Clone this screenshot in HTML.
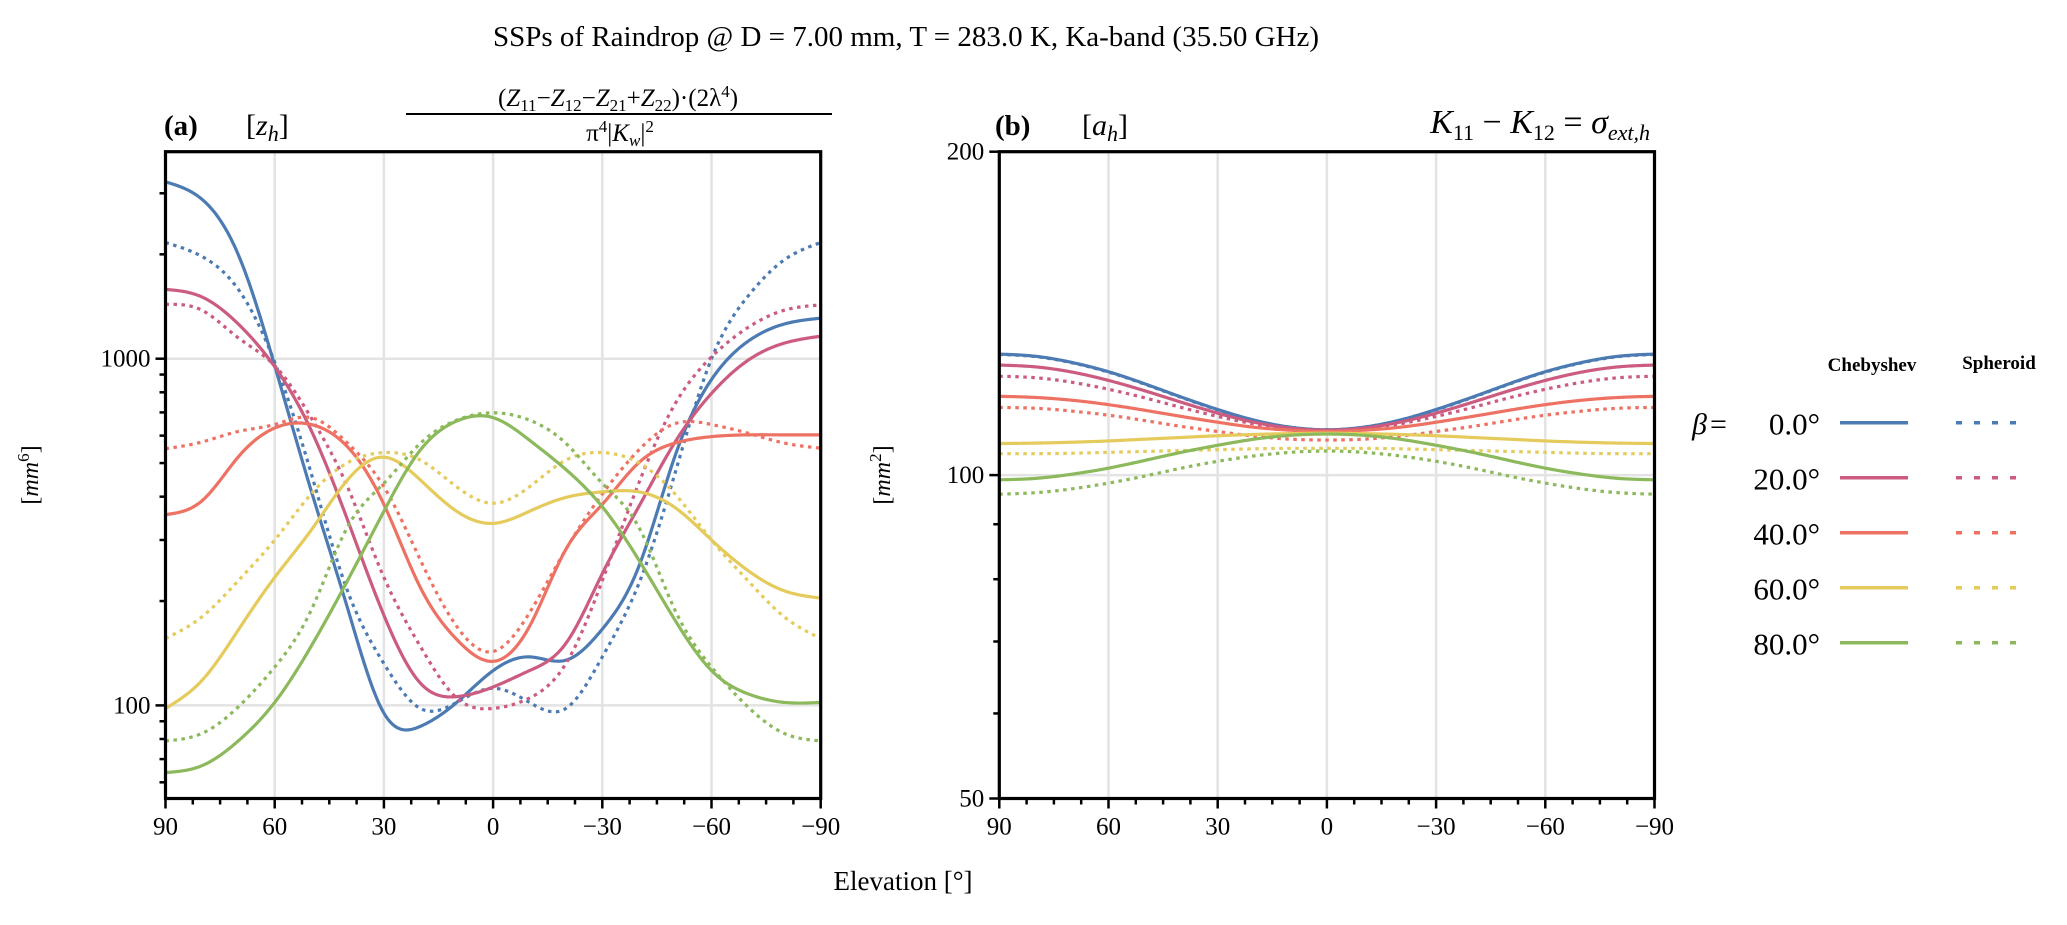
<!DOCTYPE html>
<html><head><meta charset="utf-8"><style>
html,body{margin:0;padding:0;background:#fff;}
svg{display:block;font-family:"Liberation Serif",serif;}
</style></head><body>
<svg id="fig" width="2067" height="925" viewBox="0 0 2067 925" xmlns="http://www.w3.org/2000/svg">
<text x="906" y="46" font-size="29" text-anchor="middle">SSPs of Raindrop @ D = 7.00 mm, T = 283.0 K, Ka-band (35.50 GHz)</text>
<g>
<text x="164" y="135" font-size="29" font-weight="bold">(a)</text>
<text x="246" y="135" font-size="30">[<tspan font-style="italic">z</tspan><tspan font-style="italic" font-size="22" dy="6">h</tspan><tspan dy="-6">]</tspan></text>
<text x="618" y="106" font-size="25" text-anchor="middle">(<tspan font-style="italic">Z</tspan><tspan font-size="17" dy="5">11</tspan><tspan dy="-5">−</tspan><tspan font-style="italic">Z</tspan><tspan font-size="17" dy="5">12</tspan><tspan dy="-5">−</tspan><tspan font-style="italic">Z</tspan><tspan font-size="17" dy="5">21</tspan><tspan dy="-5">+</tspan><tspan font-style="italic">Z</tspan><tspan font-size="17" dy="5">22</tspan><tspan dy="-5">)·(2λ</tspan><tspan font-size="17" dy="-9">4</tspan><tspan dy="9">)</tspan></text>
<line x1="406" y1="114" x2="832" y2="114" stroke="#000" stroke-width="2"/>
<text x="620" y="141" font-size="25" text-anchor="middle">π<tspan font-size="17" dy="-9">4</tspan><tspan dy="9">|</tspan><tspan font-style="italic">K</tspan><tspan font-style="italic" font-size="17" dy="5">w</tspan><tspan dy="-5">|</tspan><tspan font-size="17" dy="-9">2</tspan></text>
</g>
<g>
<text x="995" y="135" font-size="29" font-weight="bold">(b)</text>
<text x="1082" y="135" font-size="30">[<tspan font-style="italic">a</tspan><tspan font-style="italic" font-size="22" dy="6">h</tspan><tspan dy="-6">]</tspan></text>
<text x="1650" y="133" font-size="34" text-anchor="end"><tspan font-style="italic">K</tspan><tspan font-size="22" dy="7">11</tspan><tspan dy="-7"> − </tspan><tspan font-style="italic">K</tspan><tspan font-size="22" dy="7">12</tspan><tspan dy="-7"> = </tspan><tspan font-style="italic">σ</tspan><tspan font-style="italic" font-size="22" dy="7">ext,h</tspan></text>
</g>
<text x="0" y="0" font-size="24" transform="translate(38,475) rotate(-90)" text-anchor="middle">[<tspan font-style="italic">mm</tspan><tspan font-size="17" dy="-9">6</tspan><tspan dy="9">]</tspan></text>
<text x="0" y="0" font-size="24" transform="translate(890,475) rotate(-90)" text-anchor="middle">[<tspan font-style="italic">mm</tspan><tspan font-size="17" dy="-9">2</tspan><tspan dy="9">]</tspan></text>
<text x="903" y="890" font-size="27" text-anchor="middle">Elevation [°]</text>
<g id="pa"></g>
<g id="pb"></g>
<g id="legend"></g>
</svg>
<script>
const elevations = [90,80,70,60,50,40,30,20,10,0,-10,-20,-30,-40,-50,-60,-70,-80,-90];
const betaLabels = ["0.0°","20.0°","40.0°","60.0°","80.0°"];
const colors = ["#4C7BB3","#CC5B80","#EE7264","#E5CA5C","#8BB95B"];
// Panel (a) z_h [mm^6]
const zhCheb0 = [3236,2884,1995,955,417,191,95,87,102,126,138,135,166,251,525,871,1122,1259,1309];
const zhCheb20 = [1585,1507,1259,948,622,343,182,116,106,113,126,151,240,374,575,794,989,1109,1161];
const zhCheb40 = [355,389,521,631,646,557,380,219,155,134,169,282,380,501,571,596,603,603,603];
const zhCheb60 = [98,118,165,234,320,447,520,447,363,335,363,398,413,413,372,300,245,214,204];
const zhCheb80 = [64,67,79,102,148,229,363,545,661,676,582,479,374,263,176,126,108,102,102];
const zhSph0 = [2163,1972,1585,977,468,214,132,98,102,112,102,98,138,224,468,1000,1514,1928,2163];
const zhSph20 = [1435,1380,1148,955,676,427,234,148,105,98,105,132,229,437,741,1012,1230,1380,1429];
const zhSph40 = [550,575,617,646,676,571,427,263,169,143,185,282,407,545,650,646,610,571,552];
const zhSph60 = [156,180,229,300,407,501,536,510,427,383,427,510,536,501,407,300,229,180,156];
const zhSph80 = [79,83,99,129,188,327,437,570,665,698,665,570,437,327,188,129,99,83,79];
// Panel (b) a_h [mm^2]
const ahCheb0 = [129.6,129.0,127.3,124.8,121.6,118.2,115.1,112.5,110.8,110.2,110.8,112.5,115.1,118.2,121.6,124.8,127.3,129.0,129.6];
const ahCheb20 = [126.6,126.1,124.7,122.5,119.8,116.9,114.2,112.0,110.6,110.1,110.6,112.0,114.2,116.9,119.8,122.5,124.7,126.1,126.6];
const ahCheb40 = [118.4,118.1,117.4,116.3,114.9,113.4,112.0,110.8,110.1,109.8,110.1,110.8,112.0,113.4,114.9,116.3,117.4,118.1,118.4];
const ahCheb60 = [107.0,107.1,107.3,107.6,108.0,108.4,108.8,109.1,109.3,109.4,109.3,109.1,108.8,108.4,108.0,107.6,107.3,107.1,107.0];
const ahCheb80 = [99.0,99.3,100.2,101.5,103.2,105.0,106.6,108.0,108.9,109.2,108.9,108.0,106.6,105.0,103.2,101.5,100.2,99.3,99.0];
const ahSph0 = [129.5,128.9,127.2,124.7,121.5,118.1,115.0,112.4,110.8,110.2,110.8,112.4,115.0,118.1,121.5,124.7,127.2,128.9,129.5];
const ahSph20 = [123.6,123.2,122.0,120.2,118.0,115.6,113.4,111.6,110.4,110.0,110.4,111.6,113.4,115.6,118.0,120.2,122.0,123.2,123.6];
const ahSph40 = [115.6,115.4,114.7,113.7,112.4,111.0,109.8,108.7,108.0,107.8,108.0,108.7,109.8,111.0,112.4,113.7,114.7,115.4,115.6];
const ahSph60 = [104.7,104.7,104.8,105.0,105.2,105.4,105.6,105.8,105.9,105.9,105.9,105.8,105.6,105.4,105.2,105.0,104.8,104.7,104.7];
const ahSph80 = [96.0,96.3,97.1,98.3,99.8,101.5,103.0,104.2,105.0,105.3,105.0,104.2,103.0,101.5,99.8,98.3,97.1,96.3,96.0];
const xTickLabels = ["90","60","30","0","−30","−60","−90"];
const xTickValues = [90,60,30,0,-30,-60,-90];
const aTickValues = [100,1000];
const aTickLabels = ["100","1000"];
const bTickValues = [50,100,200];
const bTickLabels = ["50","100","200"];

const NS="http://www.w3.org/2000/svg";
function mk(tag,attrs,parent){const e=document.createElementNS(NS,tag);for(const k in attrs)e.setAttribute(k,attrs[k]);parent.appendChild(e);return e;}
const AX={a:{x0:165.5,x1:820.7,y0:151.7,y1:798.5},b:{x0:999.3,x1:1654.5,y0:151.7,y1:798.5}};
function xScale(ax,e){return ax.x0+(90-e)/180*(ax.x1-ax.x0);}
function ya(v){return 358.7-(Math.log10(v)-3)*346.7;}
function yb(v){return 475.1-Math.log2(v/100)*323.4;}

// natural cubic spline in log space (uniform knots)
function spline(y){
  const n=y.length, m=new Array(n).fill(0);
  const a=new Array(n).fill(0),b=new Array(n).fill(0),c=new Array(n).fill(0),d=new Array(n).fill(0);
  for(let i=1;i<n-1;i++){a[i]=1;b[i]=4;c[i]=1;d[i]=6*(y[i+1]-2*y[i]+y[i-1]);}
  b[0]=1;b[n-1]=1;
  for(let i=1;i<n;i++){const w=a[i]/b[i-1];b[i]-=w*c[i-1];d[i]-=w*d[i-1];}
  m[n-1]=d[n-1]/b[n-1];
  for(let i=n-2;i>=0;i--)m[i]=(d[i]-c[i]*m[i+1])/b[i];
  return m;
}
function curvePath(ax,vals,ys){
  const L=vals.map(v=>Math.log(v));
  const M=spline(L);
  let d="";
  const n=elevations.length;
  for(let i=0;i<n-1;i++){
    for(let s=0;s<=20;s++){
      if(i>0&&s===0)continue;
      const t=s/20;
      const v=(1-t)*L[i]+t*L[i+1]+((1-t)**3-(1-t))*M[i]/6+(t**3-t)*M[i+1]/6;
      const e=elevations[i]+(elevations[i+1]-elevations[i])*t;
      d+=(d?"L":"M")+xScale(ax,e).toFixed(2)+","+ys(Math.exp(v)).toFixed(2);
    }
  }
  return d;
}

function drawPanel(g,ax,ys,yTickV,yTickL,minors,cheb,sph,key){
  const clipId="clip"+key;
  const defs=mk("defs",{},g);
  const cp=mk("clipPath",{id:clipId},defs);
  mk("rect",{x:ax.x0,y:ax.y0,width:ax.x1-ax.x0,height:ax.y1-ax.y0},cp);
  const grid=mk("g",{stroke:"#e3e3e3","stroke-width":"2.5"},g);
  
  
  xTickValues.forEach(v=>{const x=xScale(ax,v);mk("line",{x1:x,x2:x,y1:ax.y0,y2:ax.y1},grid);});
  yTickV.forEach(v=>{const y=ys(v);mk("line",{x1:ax.x0,x2:ax.x1,y1:y,y2:y},grid);});
  const lines=mk("g",{"clip-path":"url(#"+clipId+")",fill:"none","stroke-width":"3.2"},g);
  
  
  for(let i=0;i<5;i++){
    const p=mk("path",{d:curvePath(ax,cheb[i],ys),stroke:colors[i]},lines);
    
    
    const q=mk("path",{d:curvePath(ax,sph[i],ys),stroke:colors[i],"stroke-dasharray":"3.5 4.5"},lines);
    
    
  }
  const tk=mk("g",{stroke:"#000","stroke-width":"2.5"},g);
  
  
  for(let e=90;e>=-90;e-=7.5){const x=xScale(ax,e);const major=(e%30===0);mk("line",{x1:x,x2:x,y1:ax.y1,y2:ax.y1+(major?10:6)},tk);}
  yTickV.forEach(v=>{const y=ys(v);mk("line",{x1:ax.x0-10,x2:ax.x0,y1:y,y2:y},tk);});
  minors.forEach(v=>{const y=ys(v);if(y>ax.y0&&y<ax.y1)mk("line",{x1:ax.x0-6,x2:ax.x0,y1:y,y2:y},tk);});
  xTickValues.forEach((v,i)=>{const t=mk("text",{x:xScale(ax,v),y:ax.y1+36,"font-size":"25","text-anchor":"middle"},g);t.textContent=xTickLabels[i];
    
    });
  yTickV.forEach((v,i)=>{const t=mk("text",{x:ax.x0-15,y:ys(v)+8,"font-size":"25","text-anchor":"end"},g);t.textContent=yTickL[i];
    
    });
  const fr=mk("rect",{x:ax.x0,y:ax.y0,width:ax.x1-ax.x0,height:ax.y1-ax.y0,fill:"none",stroke:"#000","stroke-width":"3.2"},g);
  
  
}
const minorA=[60,70,80,90,200,300,400,500,600,700,800,900,2000,3000];
const minorB=[60,70,80,90];
drawPanel(document.getElementById("pa"),AX.a,ya,aTickValues,aTickLabels,minorA,
  [zhCheb0,zhCheb20,zhCheb40,zhCheb60,zhCheb80],[zhSph0,zhSph20,zhSph40,zhSph60,zhSph80],"a");
drawPanel(document.getElementById("pb"),AX.b,yb,bTickValues,bTickLabels,minorB,
  [ahCheb0,ahCheb20,ahCheb40,ahCheb60,ahCheb80],[ahSph0,ahSph20,ahSph40,ahSph60,ahSph80],"b");

const lg=document.getElementById("legend");
let h=mk("text",{x:1872,y:371,"font-size":"19","font-weight":"bold","text-anchor":"middle"},lg);h.textContent="Chebyshev";


h=mk("text",{x:1999,y:369,"font-size":"19","font-weight":"bold","text-anchor":"middle"},lg);h.textContent="Spheroid";


h=mk("text",{x:1692,y:434,"font-size":"30","font-style":"italic"},lg);h.textContent="β";


h=mk("text",{x:1710,y:434,"font-size":"30"},lg);h.textContent="=";


for(let i=0;i<5;i++){
  const y=422.7+i*55;
  const t=mk("text",{x:1820,y:y+12,"font-size":"31","text-anchor":"end"},lg);t.textContent=betaLabels[i];
  
  
  const a=mk("line",{x1:1840,x2:1908,y1:y,y2:y,stroke:colors[i],"stroke-width":"3.5"},lg);
  
  
  const b=mk("line",{x1:1956,x2:2020,y1:y,y2:y,stroke:colors[i],"stroke-width":"3.5","stroke-dasharray":"6 12"},lg);
  
  
}
</script>
</body></html>
